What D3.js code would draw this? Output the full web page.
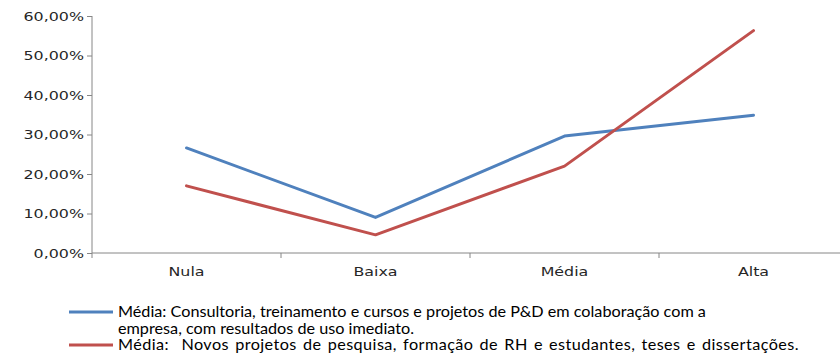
<!DOCTYPE html>
<html>
<head>
<meta charset="utf-8">
<script src="https://cdn.jsdelivr.net/npm/d3@7"></script>
<style>
  html, body { margin: 0; padding: 0; background: #fff; }
  svg { display: block; }
  .legend text { white-space: pre; }
</style>
</head>
<body>
<div id="chart"></div>
<script>
// Categories of intensity and the two averaged series (shares, 0–1)
const categories = ["Nula", "Baixa", "Média", "Alta"];
const serieConsultoria = [0.266, 0.090, 0.296, 0.349];
const serieNovosProjetos = [0.170, 0.046, 0.220, 0.563];
const yTicks = [0, 0.1, 0.2, 0.3, 0.4, 0.5, 0.6];
const legendConsultoria = [
  "Média: Consultoria, treinamento e cursos e projetos de P&D em colaboração com a",
  "empresa, com resultados de uso imediato."
];
const legendNovosProjetos = [
  "Média:  Novos projetos de pesquisa, formação de RH e estudantes, teses e dissertações."
];

const W = 840, H = 353;
const plot = { left: 92, top: 16, bottom: 253, bandW: 189 };
const colors = { blue: "#4F81BD", red: "#C0504D", axis: "#868686", text: "#262626" };
const tickFont = "DejaVu Sans, Verdana, sans-serif";
const legendFont = "Lato, 'Open Sans', sans-serif";

const svg = d3.select("#chart").append("svg")
  .attr("width", W).attr("height", H);
svg.append("rect").attr("width", W).attr("height", H).attr("fill", "#fff");

const x = d3.scaleBand()
  .domain(categories)
  .range([plot.left, plot.left + plot.bandW * categories.length])
  .padding(0);
const y = d3.scaleLinear().domain([0, 0.6]).range([plot.bottom, plot.top]);

const pct = d => d3.format(".2f")(d * 100).replace(".", ",") + "%";

// Value axis
const yAxis = svg.append("g")
  .attr("transform", `translate(${plot.left},0)`)
  .call(d3.axisLeft(y).tickValues(yTicks).tickSize(5).tickPadding(7).tickFormat(pct));
yAxis.select(".domain").attr("stroke", colors.axis).attr("d", `M0,${plot.top}V${plot.bottom}`);
yAxis.selectAll(".tick line").attr("stroke", colors.axis);
yAxis.selectAll(".tick text")
  .attr("font-family", tickFont).attr("font-size", 13)
  .attr("fill", colors.text)
  .attr("transform", "scale(1.22,1)")
  .attr("x", -8 / 1.22);

// Category axis: ticks on band boundaries
const xAxisG = svg.append("g").attr("transform", `translate(0,${plot.bottom})`);
const xr = x.range();
xAxisG.append("line")
  .attr("x1", xr[0]).attr("x2", xr[1]).attr("y1", 0).attr("y2", 0)
  .attr("stroke", colors.axis);
xAxisG.selectAll("line.bound")
  .data(categories.map(c => x(c)).concat([xr[1]]))
  .join("line").attr("class", "bound")
  .attr("x1", d => d).attr("x2", d => d).attr("y1", 0).attr("y2", 5)
  .attr("stroke", colors.axis);
xAxisG.selectAll("text.cat")
  .data(categories)
  .join("text").attr("class", "cat")
  .attr("transform", c => `translate(${x(c) + x.bandwidth() / 2},23) scale(1.22,1)`)
  .attr("text-anchor", "middle")
  .attr("font-family", tickFont).attr("font-size", 13)
  .attr("fill", colors.text)
  .text(c => c);

// Series lines
const line = d3.line()
  .x((d, i) => x(categories[i]) + x.bandwidth() / 2)
  .y(d => y(d));
[[serieConsultoria, colors.blue], [serieNovosProjetos, colors.red]].forEach(([vals, col]) => {
  svg.append("path")
    .datum(vals)
    .attr("fill", "none")
    .attr("stroke", col)
    .attr("stroke-width", 3)
    .attr("stroke-linejoin", "round")
    .attr("stroke-linecap", "round")
    .attr("d", line);
});

// Legend
const legend = svg.append("g").attr("class", "legend");
const legendItems = [
  { lines: legendConsultoria, color: colors.blue, y: 312, wordSpacing: 0, letterSpacing: 0 },
  { lines: legendNovosProjetos, color: colors.red, y: 345, wordSpacing: 1.5, letterSpacing: 0.4 }
];
legendItems.forEach(item => {
  legend.append("line")
    .attr("x1", 69).attr("x2", 113).attr("y1", item.y).attr("y2", item.y)
    .attr("stroke", item.color).attr("stroke-width", 3);
  item.lines.forEach((t, i) => {
    legend.append("text")
      .attr("transform", `translate(118,${item.y + 5 + i * 16.5}) scale(1.08,1)`)
      .attr("font-family", legendFont).attr("font-size", 15)
      .attr("word-spacing", item.wordSpacing)
      .attr("letter-spacing", item.letterSpacing)
      .attr("fill", "#000")
      .text(t);
  });
});
</script>
</body>
</html>
